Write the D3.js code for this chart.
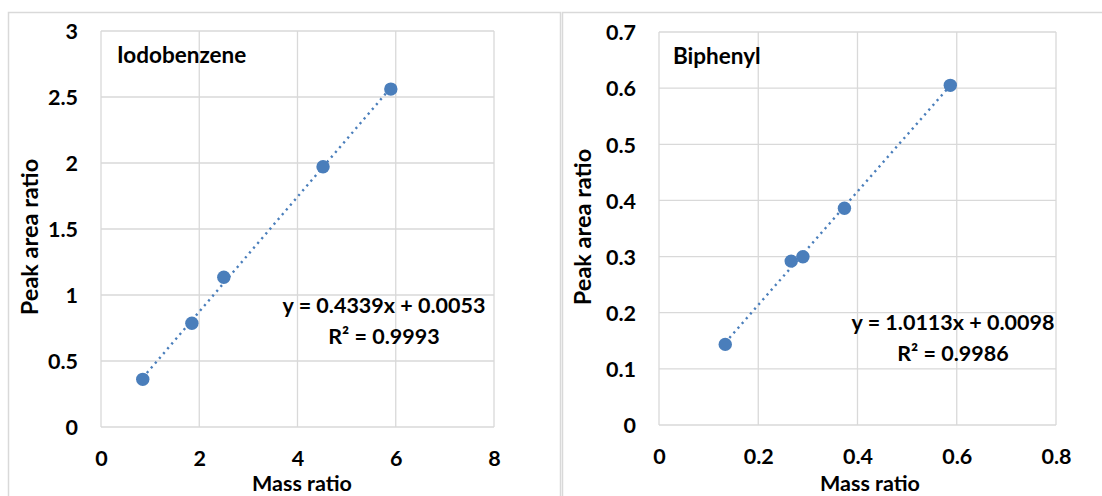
<!DOCTYPE html>
<html>
<head>
<meta charset="utf-8">
<script src="https://cdn.jsdelivr.net/npm/d3@7"></script>
<style>
  body { margin: 0; background: #fff; }
  svg { display: block; font-family: "Lato", "Open Sans", sans-serif; font-weight: bold; }
</style>
</head>
<body>
<div id="chart"></div>
<script>
// iodobenzene calibration
var iodoMass = [0.85, 1.85, 2.50, 4.52, 5.90];
var iodoArea = [0.361, 0.786, 1.134, 1.972, 2.560];
var iodoYTicks = [0, 0.5, 1, 1.5, 2, 2.5, 3];
var iodoXTicks = [0, 2, 4, 6, 8];

// biphenyl calibration
var biphMass = [0.1335, 0.2664, 0.290, 0.3737, 0.587];
var biphArea = [0.1436, 0.2919, 0.2996, 0.386, 0.605];
var biphYTicks = [0, 0.1, 0.2, 0.3, 0.4, 0.5, 0.6, 0.7];
var biphXTicks = [0, 0.2, 0.4, 0.6, 0.8];

var W = 1102, H = 496;
var blue = "#4a7ebb", grid = "#d9d9d9";

var svg = d3.select("#chart").append("svg")
    .attr("width", W)
    .attr("height", H);

function panel(opt) {
    var g = svg.append("g");

    // chart frame
    g.append("rect")
        .attr("x", opt.box[0] + 0.5).attr("y", opt.box[1] + 0.5)
        .attr("width", opt.box[2]).attr("height", opt.box[3])
        .attr("fill", "none").attr("stroke", grid).attr("stroke-width", 1.5);

    var x = d3.scaleLinear().domain(opt.xDom).range([opt.plot[0], opt.plot[1]]);
    var y = d3.scaleLinear().domain(opt.yDom).range([opt.plot[3], opt.plot[2]]);

    // gridlines
    g.append("g").selectAll("line").data(opt.yTicks).join("line")
        .attr("x1", x.range()[0]).attr("x2", x.range()[1])
        .attr("y1", d => y(d)).attr("y2", d => y(d))
        .attr("stroke", grid).attr("stroke-width", 1.3);
    g.append("g").selectAll("line").data(opt.xTicks).join("line")
        .attr("y1", y.range()[0]).attr("y2", y.range()[1])
        .attr("x1", d => x(d)).attr("x2", d => x(d))
        .attr("stroke", grid).attr("stroke-width", 1.3);

    // axes (labels only)
    var ya = g.append("g")
        .attr("transform", "translate(" + (opt.plot[0] - 23) + ",0)")
        .call(d3.axisLeft(y).tickValues(opt.yTicks).tickSize(0).tickPadding(0).tickFormat(d3.format("")));
    var xa = g.append("g")
        .attr("transform", "translate(0," + (opt.plot[3] + 39) + ")")
        .call(d3.axisBottom(x).tickValues(opt.xTicks).tickSize(0).tickPadding(0).tickFormat(d3.format("")));
    [ya, xa].forEach(function(a) {
        a.select(".domain").remove();
        a.selectAll("text")
            .attr("fill", "#000")
            .style("font-size", "21.5px")
            .style("font-family", "Lato, sans-serif")
            .style("font-weight", "bold");
    });
    ya.selectAll("text").attr("dy", "0.36em");
    xa.selectAll("text").attr("dy", "0");

    // axis titles
    g.append("text")
        .attr("x", opt.xTitle[0]).attr("y", opt.xTitle[1])
        .attr("text-anchor", "middle").attr("font-size", 21.5)
        .text("Mass ratio");
    g.append("text")
        .attr("transform", "translate(" + opt.yTitle[0] + "," + opt.yTitle[1] + ") rotate(-90)")
        .attr("text-anchor", "middle").attr("font-size", 23.5)
        .text("Peak area ratio");

    // compound label
    g.append("text")
        .attr("x", opt.label[0]).attr("y", opt.label[1])
        .attr("font-size", 22.5)
        .text(opt.name);

    // linear fit trendline
    var xs = opt.mass, ys = opt.area;
    var mx = d3.mean(xs), my = d3.mean(ys);
    var sxy = d3.sum(xs, (v, i) => (v - mx) * (ys[i] - my));
    var sxx = d3.sum(xs, v => (v - mx) * (v - mx));
    var slope = sxy / sxx, icpt = my - slope * mx;
    var ext = d3.extent(xs);
    g.append("line")
        .attr("x1", x(ext[0])).attr("y1", y(slope * ext[0] + icpt))
        .attr("x2", x(ext[1])).attr("y2", y(slope * ext[1] + icpt))
        .attr("stroke", blue).attr("stroke-width", 2.4)
        .attr("stroke-dasharray", "2.2,4.1");

    // points
    g.append("g").selectAll("circle").data(xs).join("circle")
        .attr("cx", d => x(d))
        .attr("cy", (d, i) => y(ys[i]))
        .attr("r", 6.7)
        .attr("fill", blue);

    // equation
    var eq = g.append("text")
        .attr("text-anchor", "middle").attr("font-size", 21.5);
    eq.append("tspan").attr("x", opt.eq[0]).attr("y", opt.eq[1]).text(opt.eqText[0]);
    eq.append("tspan").attr("x", opt.eq[0]).attr("y", opt.eq[1] + 31).text(opt.eqText[1]);
}

panel({
    box: [8, 12, 552, 500],
    plot: [101, 494, 31, 427],
    xDom: [0, 8], yDom: [0, 3],
    xTicks: iodoXTicks, yTicks: iodoYTicks,
    mass: iodoMass, area: iodoArea,
    name: "Iodobenzene", label: [117, 63],
    xTitle: [302, 491], yTitle: [38, 237],
    eq: [384, 313], eqText: ["y = 0.4339x + 0.0053", "R² = 0.9993"]
});

panel({
    box: [562, 12, 560, 500],
    plot: [659, 1056, 32, 425],
    xDom: [0, 0.8], yDom: [0, 0.7],
    xTicks: biphXTicks, yTicks: biphYTicks,
    mass: biphMass, area: biphArea,
    name: "Biphenyl", label: [673, 64],
    xTitle: [870, 491], yTitle: [591, 227],
    eq: [953, 330], eqText: ["y = 1.0113x + 0.0098", "R² = 0.9986"]
});
</script>
</body>
</html>
